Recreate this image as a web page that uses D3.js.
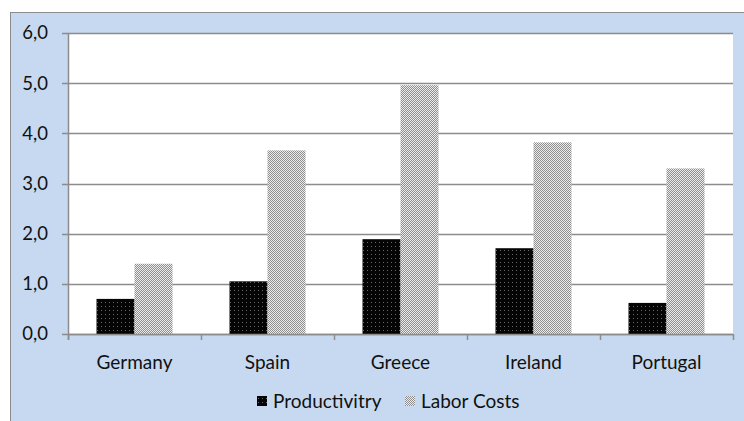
<!DOCTYPE html>
<html>
<head>
<meta charset="utf-8">
<script src="https://cdn.jsdelivr.net/npm/d3@7"></script>
<style>
  html, body { margin: 0; padding: 0; background: #fff; }
  svg { display: block; }
  text { font-family: Lato, "Open Sans", sans-serif; fill: #111; }
</style>
</head>
<body>
<svg id="chart"></svg>
<script>
// data
const countries = ['Germany', 'Spain', 'Greece', 'Ireland', 'Portugal'];
const productivity = [0.70, 1.05, 1.89, 1.71, 0.62];
const laborCosts = [1.40, 3.66, 4.96, 3.82, 3.30];
const seriesNames = ['Productivitry', 'Labor Costs'];
const yTicks = [0, 1, 2, 3, 4, 5, 6];

const width = 744;
const height = 421;
const margin = { top: 33, right: 11, bottom: 87, left: 68 };

const svg = d3.select('#chart')
    .attr('width', width)
    .attr('height', height);

const defs = svg.append('defs');

// black with light dots
const pDark = defs.append('pattern')
    .attr('id', 'patDark')
    .attr('width', 4).attr('height', 4)
    .attr('patternUnits', 'userSpaceOnUse');
pDark.append('rect').attr('width', 4).attr('height', 4).attr('fill', '#050505');
pDark.append('rect').attr('x', 1).attr('y', 1).attr('width', 1).attr('height', 1).attr('fill', '#6a6a6a');

// gray checker
const pLight = defs.append('pattern')
    .attr('id', 'patLight')
    .attr('width', 2).attr('height', 2)
    .attr('patternUnits', 'userSpaceOnUse');
pLight.append('rect').attr('width', 2).attr('height', 2).attr('fill', '#ececec');
pLight.append('rect').attr('width', 1).attr('height', 1).attr('fill', '#8e8e8e');
pLight.append('rect').attr('x', 1).attr('y', 1).attr('width', 1).attr('height', 1).attr('fill', '#8e8e8e');

// outer chart area
svg.append('rect')
    .attr('x', 10.5).attr('y', 12.5)
    .attr('width', width).attr('height', height)
    .attr('fill', '#c6d9f0')
    .attr('stroke', '#8c8c8c')
    .attr('stroke-width', 1);

const innerW = width - margin.left - margin.right;
const innerH = height - margin.top - margin.bottom;

const g = svg.append('g')
    .attr('transform', `translate(${margin.left}, ${margin.top})`);

g.append('rect')
    .attr('width', innerW).attr('height', innerH + 1)
    .attr('fill', '#fff');

const x0 = d3.scaleBand().domain(countries).range([0, innerW]).paddingInner(0).paddingOuter(0);
const x1 = d3.scaleBand().domain(seriesNames).range([0, x0.bandwidth()]).paddingInner(0).paddingOuter(0.75);
const y = d3.scaleLinear().domain([0, 6]).range([innerH, 0]);

// grid
g.selectAll('.grid')
    .data(yTicks)
    .enter()
    .append('line')
    .attr('class', 'grid')
    .attr('x1', -6).attr('x2', innerW)
    .attr('y1', d => Math.round(y(d)) + 0.5)
    .attr('y2', d => Math.round(y(d)) + 0.5)
    .attr('stroke', '#8c8c8c')
    .attr('stroke-width', 1.5);

// y axis labels
g.selectAll('.ylab')
    .data(yTicks)
    .enter()
    .append('text')
    .attr('x', -20)
    .attr('y', d => y(d))
    .attr('dy', '0.35em')
    .attr('text-anchor', 'end')
    .style('font-size', '18.5px')
    .text(d => d.toFixed(1).replace('.', ','));

// y axis line
g.append('line')
    .attr('x1', 0.5).attr('x2', 0.5)
    .attr('y1', 0).attr('y2', innerH + 6)
    .attr('stroke', '#8c8c8c').attr('stroke-width', 1.5);

// bars
const rows = countries.map((c, i) => ({ c, vals: [productivity[i], laborCosts[i]] }));
const grp = g.selectAll('.grp')
    .data(rows)
    .enter()
    .append('g')
    .attr('transform', d => `translate(${x0(d.c)}, 0)`);

grp.selectAll('rect')
    .data(d => d.vals.map((v, k) => ({ v, k })))
    .enter()
    .append('rect')
    .attr('x', d => x1(seriesNames[d.k]))
    .attr('width', x1.bandwidth())
    .attr('y', d => y(d.v))
    .attr('height', d => y(0) - y(d.v))
    .attr('fill', d => d.k === 0 ? 'url(#patDark)' : 'url(#patLight)');

// x axis
g.append('line')
    .attr('x1', 0).attr('x2', innerW)
    .attr('y1', innerH + 0.5).attr('y2', innerH + 0.5)
    .attr('stroke', '#8c8c8c').attr('stroke-width', 1.5);

const bounds = countries.map(c => x0(c)).concat([innerW]);
g.selectAll('.xtick')
    .data(bounds)
    .enter()
    .append('line')
    .attr('x1', d => Math.round(d) + 0.5).attr('x2', d => Math.round(d) + 0.5)
    .attr('y1', innerH).attr('y2', innerH + 6)
    .attr('stroke', '#8c8c8c').attr('stroke-width', 1.5);

g.selectAll('.xlab')
    .data(countries)
    .enter()
    .append('text')
    .attr('x', d => x0(d) + x0.bandwidth() / 2)
    .attr('y', innerH + 28)
    .attr('dy', '0.35em')
    .attr('text-anchor', 'middle')
    .style('font-size', '19px')
    .text(d => d);

// legend
const legend = svg.append('g').attr('transform', 'translate(257, 401)');
const items = [
    { name: seriesNames[0], fill: 'url(#patDark)', x: 0 },
    { name: seriesNames[1], fill: 'url(#patLight)', x: 148 }
];
const li = legend.selectAll('.li')
    .data(items)
    .enter()
    .append('g')
    .attr('transform', d => `translate(${d.x}, 0)`);
li.append('rect')
    .attr('x', 0).attr('y', -5)
    .attr('width', 10).attr('height', 10)
    .attr('fill', d => d.fill);
li.append('text')
    .attr('x', 16)
    .attr('y', 0)
    .attr('dy', '0.35em')
    .style('font-size', '19px')
    .text(d => d.name);
</script>
</body>
</html>
